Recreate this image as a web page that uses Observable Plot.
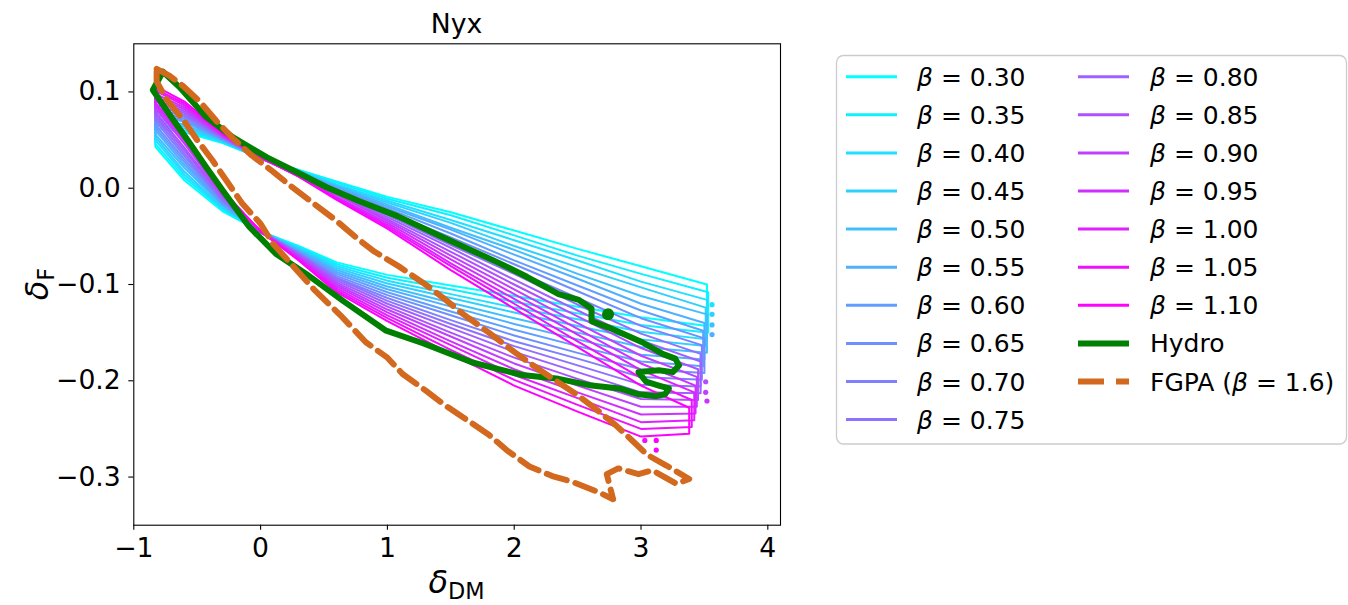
<!DOCTYPE html>
<html><head><meta charset="utf-8">
<script src="https://cdn.jsdelivr.net/npm/d3@7"></script>
<script src="https://cdn.jsdelivr.net/npm/@observablehq/plot@0.6"></script>
<style>
body{margin:0;background:#fff;}
#chart svg{display:block;font-family:"DejaVu Sans";overflow:visible;}
</style>
</head><body><div id="chart"></div>
<script>
// ---------------- data ----------------
const betas = ["0.30","0.35","0.40","0.45","0.50","0.55","0.60","0.65","0.70","0.75","0.80","0.85","0.90","0.95","1.00","1.05","1.10"];
const betaColors = ["#00ffff","#10efff","#20dfff","#30cfff","#40bfff","#50afff","#609fff","#708fff","#807fff","#8f70ff","#9f60ff","#af50ff","#bf40ff","#cf30ff","#df20ff","#ef10ff","#ff00ff"];
// x positions where each contour edge was read (last point is the contour's right end, rightX)
const xGrid = [-0.83, -0.6, -0.3, 0.0, 0.3, 0.6, 1.0, 1.5, 2.0, 2.5, 3.0];
const rightX = [3.52, 3.53, 3.52, 3.51, 3.52, 3.50, 3.49, 3.50, 3.48, 3.47, 3.47, 3.45, 3.44, 3.43, 3.42, 3.40, 3.38];
const upperY = [
  [0.062, 0.058, 0.047, 0.031, 0.019, 0.007, -0.009, -0.025, -0.044, -0.063, -0.081, -0.100],
  [0.065, 0.060, 0.048, 0.032, 0.019, 0.006, -0.011, -0.028, -0.049, -0.070, -0.089, -0.108],
  [0.067, 0.062, 0.048, 0.031, 0.018, 0.004, -0.013, -0.033, -0.054, -0.075, -0.097, -0.116],
  [0.070, 0.064, 0.049, 0.032, 0.018, 0.003, -0.015, -0.036, -0.060, -0.082, -0.103, -0.124],
  [0.073, 0.066, 0.050, 0.031, 0.017, 0.002, -0.017, -0.041, -0.064, -0.089, -0.112, -0.131],
  [0.076, 0.069, 0.050, 0.032, 0.017, 0.001, -0.019, -0.043, -0.069, -0.094, -0.120, -0.140],
  [0.079, 0.070, 0.051, 0.031, 0.016, 0.000, -0.021, -0.047, -0.075, -0.101, -0.127, -0.148],
  [0.081, 0.072, 0.051, 0.032, 0.016, -0.001, -0.024, -0.051, -0.079, -0.107, -0.135, -0.156],
  [0.084, 0.074, 0.052, 0.031, 0.016, -0.003, -0.026, -0.055, -0.085, -0.114, -0.143, -0.163],
  [0.087, 0.076, 0.053, 0.032, 0.015, -0.004, -0.028, -0.059, -0.089, -0.121, -0.151, -0.172],
  [0.090, 0.078, 0.053, 0.031, 0.015, -0.005, -0.030, -0.062, -0.095, -0.127, -0.158, -0.180],
  [0.092, 0.080, 0.054, 0.032, 0.014, -0.006, -0.032, -0.066, -0.100, -0.133, -0.166, -0.188],
  [0.095, 0.082, 0.054, 0.031, 0.014, -0.007, -0.034, -0.070, -0.105, -0.140, -0.174, -0.196],
  [0.098, 0.084, 0.055, 0.032, 0.013, -0.009, -0.036, -0.074, -0.110, -0.146, -0.182, -0.205],
  [0.101, 0.086, 0.056, 0.031, 0.013, -0.010, -0.038, -0.078, -0.115, -0.152, -0.189, -0.212],
  [0.103, 0.088, 0.056, 0.032, 0.012, -0.011, -0.040, -0.081, -0.120, -0.159, -0.197, -0.220],
  [0.106, 0.090, 0.057, 0.032, 0.012, -0.012, -0.042, -0.085, -0.125, -0.165, -0.205, -0.228]
];
const lowerY = [
  [0.043, 0.008, -0.024, -0.045, -0.060, -0.077, -0.090, -0.101, -0.112, -0.123, -0.134, -0.143],
  [0.046, 0.011, -0.022, -0.046, -0.061, -0.079, -0.093, -0.105, -0.118, -0.130, -0.142, -0.150],
  [0.050, 0.014, -0.021, -0.044, -0.062, -0.081, -0.096, -0.110, -0.124, -0.136, -0.149, -0.157],
  [0.053, 0.017, -0.020, -0.045, -0.063, -0.083, -0.099, -0.114, -0.129, -0.143, -0.157, -0.164],
  [0.056, 0.021, -0.018, -0.046, -0.064, -0.085, -0.102, -0.119, -0.135, -0.150, -0.165, -0.171],
  [0.060, 0.024, -0.017, -0.045, -0.065, -0.087, -0.105, -0.123, -0.141, -0.157, -0.173, -0.178],
  [0.063, 0.027, -0.016, -0.044, -0.066, -0.089, -0.108, -0.128, -0.147, -0.164, -0.180, -0.185],
  [0.066, 0.030, -0.014, -0.045, -0.067, -0.091, -0.111, -0.132, -0.153, -0.171, -0.188, -0.192],
  [0.070, 0.033, -0.013, -0.046, -0.068, -0.093, -0.114, -0.137, -0.159, -0.177, -0.196, -0.199],
  [0.073, 0.036, -0.012, -0.045, -0.068, -0.094, -0.117, -0.141, -0.164, -0.184, -0.204, -0.206],
  [0.076, 0.039, -0.010, -0.044, -0.069, -0.096, -0.120, -0.145, -0.170, -0.191, -0.212, -0.213],
  [0.079, 0.042, -0.009, -0.045, -0.070, -0.098, -0.123, -0.150, -0.176, -0.198, -0.219, -0.220],
  [0.083, 0.046, -0.007, -0.046, -0.071, -0.100, -0.126, -0.154, -0.182, -0.205, -0.227, -0.227],
  [0.086, 0.049, -0.006, -0.045, -0.072, -0.102, -0.129, -0.159, -0.188, -0.212, -0.235, -0.234],
  [0.089, 0.052, -0.005, -0.044, -0.073, -0.104, -0.132, -0.163, -0.194, -0.218, -0.243, -0.241],
  [0.093, 0.055, -0.003, -0.045, -0.074, -0.106, -0.135, -0.168, -0.199, -0.225, -0.250, -0.248],
  [0.096, 0.058, -0.002, -0.045, -0.075, -0.108, -0.138, -0.172, -0.205, -0.232, -0.258, -0.255]
];
// small isolated contour pieces near the right edge
const islandBeta = ["0.40","0.45","0.50","0.55","0.85","0.90","0.95","1.05","1.10","1.10"];
const islandX = [3.56, 3.56, 3.56, 3.56, 3.51, 3.51, 3.52, 3.03, 3.12, 3.12];
const islandY = [-0.121, -0.131, -0.142, -0.152, -0.201, -0.212, -0.221, -0.262, -0.262, -0.272];

const hydroX = [-0.77, -0.64, -0.43, -0.22, 0.05, 0.31, 0.52, 0.77, 1.08, 1.47, 1.87, 2.10, 2.35, 2.51, 2.61, 2.61, 2.75, 3.01, 3.17, 3.27, 3.30, 3.25, 3.14, 2.98, 3.04, 3.14, 3.22, 3.19, 3.12, 2.98, 2.83, 2.61, 2.35, 2.06, 1.67, 1.28, 0.99, 0.65, 0.36, 0.12, -0.09, -0.30, -0.43, -0.56, -0.69, -0.85, -0.77];
const hydroY = [0.121, 0.105, 0.074, 0.053, 0.032, 0.015, 0.001, -0.013, -0.029, -0.053, -0.077, -0.092, -0.110, -0.116, -0.125, -0.138, -0.145, -0.160, -0.172, -0.177, -0.184, -0.191, -0.189, -0.191, -0.201, -0.205, -0.208, -0.214, -0.216, -0.214, -0.208, -0.205, -0.198, -0.194, -0.181, -0.161, -0.148, -0.117, -0.089, -0.068, -0.040, -0.002, 0.022, 0.047, 0.071, 0.102, 0.121];
const hydroBlobX = [2.74];
const hydroBlobY = [-0.131];

const fgpaX = [-0.82, -0.72, -0.61, -0.48, -0.35, -0.22, -0.07, 0.10, 0.23, 0.40, 0.60, 0.77, 0.90, 1.10, 1.30, 1.45, 1.60, 1.80, 2.00, 2.17, 2.33, 2.50, 2.65, 2.80, 2.93, 3.05, 3.20, 3.38, 3.28, 3.09, 2.98, 2.82, 2.73, 2.78, 2.67, 2.46, 2.30, 2.12, 1.94, 1.80, 1.62, 1.46, 1.30, 1.12, 1.00, 0.83, 0.63, 0.42, 0.23, 0.10, 0.00, -0.15, -0.27, -0.38, -0.50, -0.61, -0.74, -0.82, -0.82];
const fgpaY = [0.124, 0.117, 0.106, 0.090, 0.070, 0.052, 0.034, 0.017, 0.003, -0.014, -0.034, -0.053, -0.066, -0.082, -0.100, -0.115, -0.131, -0.150, -0.170, -0.186, -0.200, -0.215, -0.230, -0.246, -0.262, -0.277, -0.288, -0.302, -0.307, -0.293, -0.297, -0.291, -0.297, -0.323, -0.316, -0.305, -0.299, -0.289, -0.272, -0.256, -0.240, -0.226, -0.210, -0.193, -0.176, -0.160, -0.132, -0.105, -0.077, -0.058, -0.037, -0.015, 0.008, 0.029, 0.050, 0.071, 0.092, 0.111, 0.124];

const xTicks = [-1, 0, 1, 2, 3, 4];
const yTicks = [-0.3, -0.2, -0.1, 0.0, 0.1];
const titleText = "Nyx";

// ---------------- build tables ----------------
const contourRows = [];
betas.forEach((b, i) => {
  const xs = [...xGrid, rightX[i]];
  xs.forEach((x, j) => contourRows.push({beta: b, x, y: upperY[i][j]}));
  for (let j = xs.length - 1; j >= 0; j--) contourRows.push({beta: b, x: xs[j], y: lowerY[i][j]});
  contourRows.push({beta: b, x: xs[0], y: upperY[i][0]});
});
const islands = islandX.map((x, i) => ({beta: islandBeta[i], x, y: islandY[i]}));
const hydro = hydroX.map((x, i) => ({x, y: hydroY[i]}));
const hydroBlob = hydroBlobX.map((x, i) => ({x, y: hydroBlobY[i]}));
const fgpa = fgpaX.map((x, i) => ({x, y: fgpaY[i]}));

const FS = 26.67;
const plot = Plot.plot({
  width: 1348, height: 605,
  marginLeft: 133.3, marginRight: 568, marginTop: 43.3, marginBottom: 80.3,
  style: {fontFamily: "DejaVu Sans", fontSize: FS + "px", background: "white", color: "black"},
  x: {domain: [-1, 4.1]},
  y: {domain: [-0.35, 0.15]},
  color: {type: "ordinal", domain: betas, range: betaColors},
  marks: [
    Plot.line(contourRows, {x: "x", y: "y", z: "beta", stroke: "beta", strokeWidth: 2, strokeLinejoin: "round"}),
    Plot.dot(islands, {x: "x", y: "y", fill: "beta", r: 2.6}),
    Plot.line(hydro, {x: "x", y: "y", stroke: "#008000", strokeWidth: 6, strokeLinejoin: "round", strokeLinecap: "round"}),
    Plot.dot(hydroBlob, {x: "x", y: "y", fill: "#008000", r: 6}),
    Plot.line(fgpa, {x: "x", y: "y", stroke: "#d2691e", strokeWidth: 6, strokeDasharray: "21,9", strokeLinejoin: "round"}),
    Plot.frame({stroke: "black", strokeWidth: 1.1}),
    Plot.axisX({ticks: xTicks, tickFormat: d3.format("d"), tickSize: 5, tickPadding: 8, fontSize: FS, label: null, strokeWidth: 1.1}),
    Plot.axisY({ticks: yTicks, tickFormat: d3.format(".1f"), tickSize: 5, tickPadding: 8, fontSize: FS, label: null, strokeWidth: 1.1})
  ]
});
document.getElementById("chart").appendChild(plot);

// ---------------- title, axis labels, legend ----------------
const svg = d3.select(plot);
svg.append("text").attr("x", 456.6).attr("y", 33).attr("text-anchor", "middle")
  .attr("font-size", FS).attr("fill", "black").text(titleText);

const xl = svg.append("text").attr("x", 456.6).attr("y", 593).attr("text-anchor", "middle")
  .attr("font-size", 32).attr("fill", "black");
xl.append("tspan").attr("font-style", "italic").text("δ");
xl.append("tspan").attr("font-size", 22.4).attr("dy", 6).text("DM");

const yl = svg.append("text").attr("transform", "translate(48,284) rotate(-90)").attr("text-anchor", "middle")
  .attr("font-size", 32).attr("fill", "black");
yl.append("tspan").attr("font-style", "italic").text("δ");
yl.append("tspan").attr("font-size", 22.4).attr("dy", 6).text("F");

const lg = svg.append("g").attr("font-family", "DejaVu Sans").attr("font-size", 25).attr("text-anchor", "start");
lg.append("rect").attr("x", 836.5).attr("y", 55.5).attr("width", 510).attr("height", 388.5)
  .attr("rx", 7).attr("fill", "white").attr("stroke", "#cccccc").attr("stroke-width", 1.3);
const entries = betas.map((b, i) => ({kind: "beta", label: b, color: betaColors[i]}));
entries.push({kind: "hydro", label: "Hydro", color: "#008000"});
entries.push({kind: "fgpa", label: "1.6", color: "#d2691e"});
entries.forEach((e, k) => {
  const col = k < 10 ? 0 : 1;
  const row = k < 10 ? k : k - 10;
  const y = 76.7 + row * 38.1;
  const x0 = col === 0 ? 846 : 1078;
  const tx = col === 0 ? 917 : 1150;
  const ln = lg.append("line").attr("x1", x0).attr("x2", x0 + 51).attr("y1", y).attr("y2", y).attr("stroke", e.color);
  if (e.kind === "beta") ln.attr("stroke-width", 3);
  else if (e.kind === "hydro") ln.attr("stroke-width", 6);
  else ln.attr("stroke-width", 6).attr("stroke-dasharray", "26,12");
  const t = lg.append("text").attr("x", tx).attr("y", y).attr("dy", "0.36em").attr("fill", "black").attr("text-anchor", "start");
  if (e.kind === "beta") {
    t.append("tspan").attr("font-style", "italic").text("β");
    t.append("tspan").text(" = " + e.label);
  } else if (e.kind === "hydro") {
    t.text("Hydro");
  } else {
    t.append("tspan").text("FGPA (");
    t.append("tspan").attr("font-style", "italic").text("β");
    t.append("tspan").text(" = " + e.label + ")");
  }
});
</script>
</body></html>
